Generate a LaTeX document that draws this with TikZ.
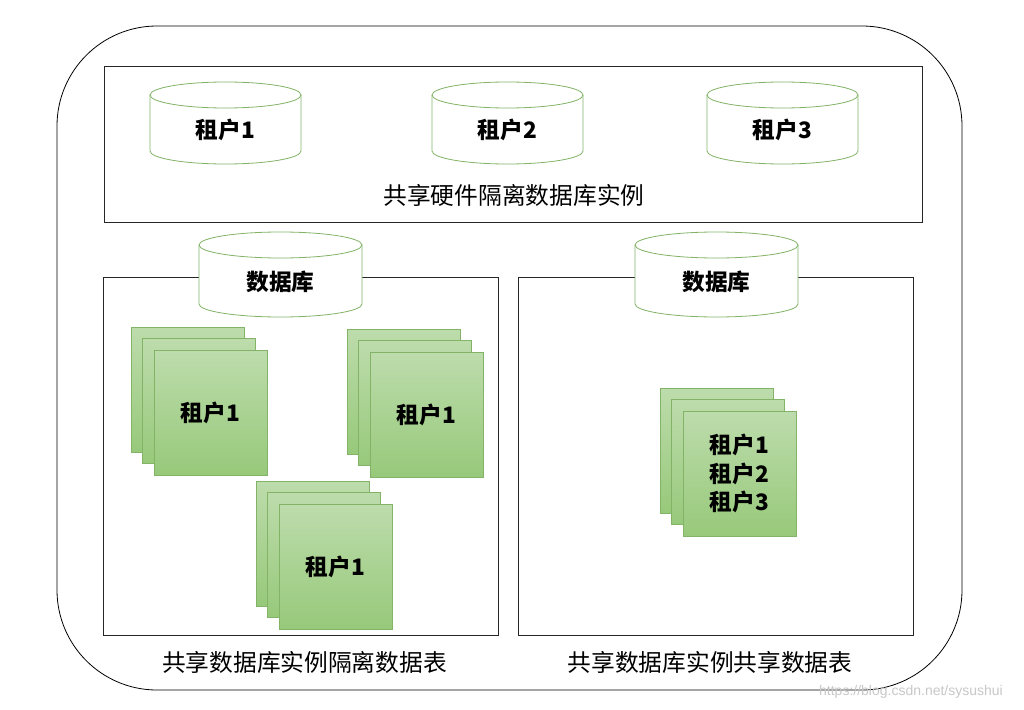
\documentclass[tikz,border=0pt]{standalone}
\usepackage{fontspec}
\setmainfont{Noto Sans CJK SC}
\newfontfamily\wmfont{Liberation Sans}
\definecolor{cylgreen}{HTML}{82B366}
\definecolor{gtop}{HTML}{BDDCAC}
\definecolor{gbot}{HTML}{97C97A}
\definecolor{wmgray}{HTML}{C8C8C8}
\newcommand\mycyl[5]{% x1 x2 top bottom name
  \path[cylstyle] (#1,#3+13) -- (#1,#4-13)
    arc[start angle=180,end angle=0,x radius={(#2-#1)/2},y radius=13]
    -- (#2,#3+13)
    arc[start angle=0,end angle=-180,x radius={(#2-#1)/2},y radius=13] -- cycle;
  \draw[cylstyle,fill=none] (#1,#3+13) arc[start angle=180,end angle=0,x radius={(#2-#1)/2},y radius=13];
  \coordinate (#5) at ({(#1+#2)/2},{(#3+#4)/2+7});
}
\newcommand\mystack[3]{% x y name
  \path[sheet] (#1,#2) rectangle ++(113,125);
  \path[sheet] (#1+11.5,#2+11.5) rectangle ++(113,125);
  \path[sheet] (#1+23,#2+23) rectangle ++(113,125);
  \coordinate (#3) at (#1+79.5,#2+85.5);
}
\begin{document}
\begin{tikzpicture}[x=0.75pt,y=-0.75pt,
  cylstyle/.style={draw=cylgreen,fill=white,line width=0.6pt},
  sheet/.style={draw=cylgreen,top color=gtop,bottom color=gbot,line width=0.6pt},
  box/.style={draw=black!85,line width=0.6pt,fill=white},
  tlabel/.style={font=\bfseries\fontsize{17}{21.5}\selectfont,align=center},
  slabel/.style={font=\fontsize{17.8}{21}\selectfont}]
\useasboundingbox (0,0) rectangle (1024,710);
\fill[white] (0,0) rectangle (1024,710);
% outer rounded frame
\draw[line width=0.6pt,rounded corners=75pt] (57,26) rectangle (962,690);
% top box
\draw[box] (104,66) rectangle (922,222);
\mycyl{150}{301}{82}{164}{c1}
\mycyl{432}{583}{82}{164}{c2}
\mycyl{707}{858}{82}{164}{c3}
\node[tlabel] (t1) at (c1) {租户1};
\node[tlabel] (t2) at (c2) {租户2};
\node[tlabel] (t3) at (c3) {租户3};
\node[slabel] (l1) at (514,195) {共享硬件隔离数据库实例};
% lower boxes
\draw[box] (103,277) rectangle (498,635);
\draw[box] (518,277) rectangle (913,635);
\mycyl{199}{362}{232}{317}{d1}
\mycyl{635}{798}{232}{317}{d2}
\node[tlabel] (db1) at (d1) {数据库};
\node[tlabel] (db2) at (d2) {数据库};
\mystack{131}{327}{s1}
\mystack{347}{329}{s2}
\mystack{256}{481}{s3}
\mystack{660}{388}{s4}
\node[tlabel] (n1) at (s1) {租户1};
\node[tlabel] (n2) at (s2) {租户1};
\node[tlabel] (n3) at (s3) {租户1};
\node[tlabel] (n4) at (s4) {租户1\\租户2\\租户3};
\node[slabel] (l2) at (304.5,662) {共享数据库实例隔离数据表};
\node[slabel] (l3) at (710,662) {共享数据库实例共享数据表};
\node[font=\wmfont\fontsize{10.5}{12}\selectfont,text=wmgray] (wm) at (911,692) {https://blog.csdn.net/sysushui};
\end{tikzpicture}
\end{document}
